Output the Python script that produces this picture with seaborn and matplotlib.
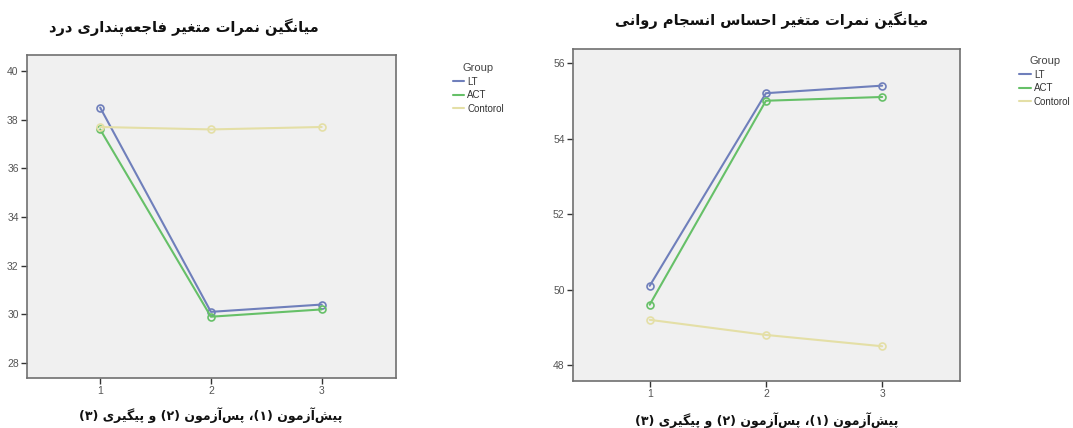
import numpy as np
import pandas as pd
import matplotlib
matplotlib.use("Agg")
import matplotlib.pyplot as plt
import seaborn as sns
from matplotlib.lines import Line2D

# data
times = [1, 2, 3]
groups = ["LT", "ACT", "Contorol"]
pain_lt = [38.5, 30.1, 30.4]
pain_act = [37.6, 29.9, 30.2]
pain_ctrl = [37.7, 37.6, 37.7]
coh_lt = [50.1, 55.2, 55.4]
coh_act = [49.6, 55.0, 55.1]
coh_ctrl = [49.2, 48.8, 48.5]

title_left = "میانگین نمرات متغیر فاجعه\u200cپنداری درد"
title_right = "میانگین نمرات متغیر احساس انسجام روانی"
xlab = "پیش\u200cآزمون (۱)، پس\u200cآزمون (۲) و پیگیری (۳)"

colors = {"LT": "#6f7fbb", "ACT": "#66c068", "Contorol": "#e4dfa6"}

# tiny arabic shaper: (isolated, final, initial, medial)
FORMS = {
    "ا": ("\uFE8D", "\uFE8E", None, None),
    "آ": ("\uFE81", "\uFE82", None, None),
    "ت": ("\uFE95", "\uFE96", "\uFE97", "\uFE98"),
    "ج": ("\uFE9D", "\uFE9E", "\uFE9F", "\uFEA0"),
    "ح": ("\uFEA1", "\uFEA2", "\uFEA3", "\uFEA4"),
    "د": ("\uFEA9", "\uFEAA", None, None),
    "ر": ("\uFEAD", "\uFEAE", None, None),
    "ز": ("\uFEAF", "\uFEB0", None, None),
    "س": ("\uFEB1", "\uFEB2", "\uFEB3", "\uFEB4"),
    "ش": ("\uFEB5", "\uFEB6", "\uFEB7", "\uFEB8"),
    "ع": ("\uFEC9", "\uFECA", "\uFECB", "\uFECC"),
    "غ": ("\uFECD", "\uFECE", "\uFECF", "\uFED0"),
    "ف": ("\uFED1", "\uFED2", "\uFED3", "\uFED4"),
    "م": ("\uFEE1", "\uFEE2", "\uFEE3", "\uFEE4"),
    "ن": ("\uFEE5", "\uFEE6", "\uFEE7", "\uFEE8"),
    "ه": ("\uFEE9", "\uFEEA", "\uFEEB", "\uFEEC"),
    "و": ("\uFEED", "\uFEEE", None, None),
    "پ": ("\uFB56", "\uFB57", "\uFB58", "\uFB59"),
    "گ": ("\uFB92", "\uFB93", "\uFB94", "\uFB95"),
    "ی": ("\uFBFC", "\uFBFD", "\uFBFE", "\uFBFF"),
}


def shape(text):
    out = []
    for i, ch in enumerate(text):
        if ch not in FORMS:
            out.append(ch)
            continue
        f = FORMS[ch]
        prev = text[i - 1] if i > 0 else ""
        nxt = text[i + 1] if i + 1 < len(text) else ""
        jp = prev in FORMS and FORMS[prev][2] is not None
        jn = nxt in FORMS and f[2] is not None
        if jp and jn:
            out.append(f[3])
        elif jp:
            out.append(f[1])
        elif jn:
            out.append(f[2])
        else:
            out.append(f[0])
    vis = "".join(out).replace("\u200c", "")[::-1]
    return vis.translate(str.maketrans("()", ")("))


def long_df(lt, act, ctrl):
    rows = []
    for g, vals in zip(groups, [lt, act, ctrl]):
        for t, v in zip(times, vals):
            rows.append({"time": t, "mean": v, "Group": g})
    return pd.DataFrame(rows)


sns.set_theme(style="white")
plt.rcParams["font.family"] = ["Liberation Sans", "DejaVu Sans"]

fig = plt.figure(figsize=(10.73, 4.28), dpi=100)
ax1 = fig.add_axes([0.0252, 0.1168, 0.3438, 0.7547])
ax2 = fig.add_axes([0.534, 0.1098, 0.3607, 0.7757])

panels = [
    (ax1, long_df(pain_lt, pain_act, pain_ctrl), (27.38, 40.66), [28, 30, 32, 34, 36, 38, 40], title_left, 0.1715, 0.937),
    (ax2, long_df(coh_lt, coh_act, coh_ctrl), (47.58, 56.37), [48, 50, 52, 54, 56], title_right, 0.7195, 0.953),
]

for ax, df, ylim, yticks, title, tx, ty in panels:
    sns.lineplot(data=df, x="time", y="mean", hue="Group", hue_order=groups,
                 palette=colors, marker="o", markersize=5, linewidth=1.5,
                 legend=False, ax=ax)
    for ln in ax.get_lines():
        ln.set_markerfacecolor("none")
        ln.set_markeredgecolor(ln.get_color())
        ln.set_markeredgewidth(1.2)
    ax.set_facecolor("#f0f0f0")
    ax.set_xlim(0.34, 3.67)
    ax.set_ylim(*ylim)
    ax.set_xticks(times)
    ax.set_yticks(yticks)
    ax.set_xlabel("")
    ax.set_ylabel("")
    for s in ax.spines.values():
        s.set_color("#707070")
        s.set_linewidth(1.2)
    ax.tick_params(axis="both", direction="out", length=4, width=1,
                   color="#333333", labelsize=7.5, labelcolor="#555555",
                   left=True, bottom=True, pad=2)
    fig.text(tx, ty, shape(title), ha="center", va="center", fontsize=10.5,
             fontweight="bold", family=["DejaVu Sans"], color="#111111")

fig.text(0.1967, 0.030, shape(xlab), ha="center", va="center", fontsize=9,
         fontweight="bold", family=["DejaVu Sans"], color="#111111")
fig.text(0.7148, 0.019, shape(xlab), ha="center", va="center", fontsize=9,
         fontweight="bold", family=["DejaVu Sans"], color="#111111")

handles = [Line2D([0], [0], color=colors[g], lw=1.5) for g in groups]
for x0, y0 in [(0.422, 0.852), (0.950, 0.868)]:
    leg = fig.legend(handles, groups, title="Group", loc="upper left",
                     bbox_to_anchor=(x0, y0), frameon=False, fontsize=7,
                     title_fontsize=8, handlelength=1.2, handletextpad=0.3,
                     labelspacing=0.35, borderaxespad=0, borderpad=0)
    leg.get_title().set_color("#444444")
    for t in leg.get_texts():
        t.set_color("#333333")

fig.savefig("out.png", dpi=100)
